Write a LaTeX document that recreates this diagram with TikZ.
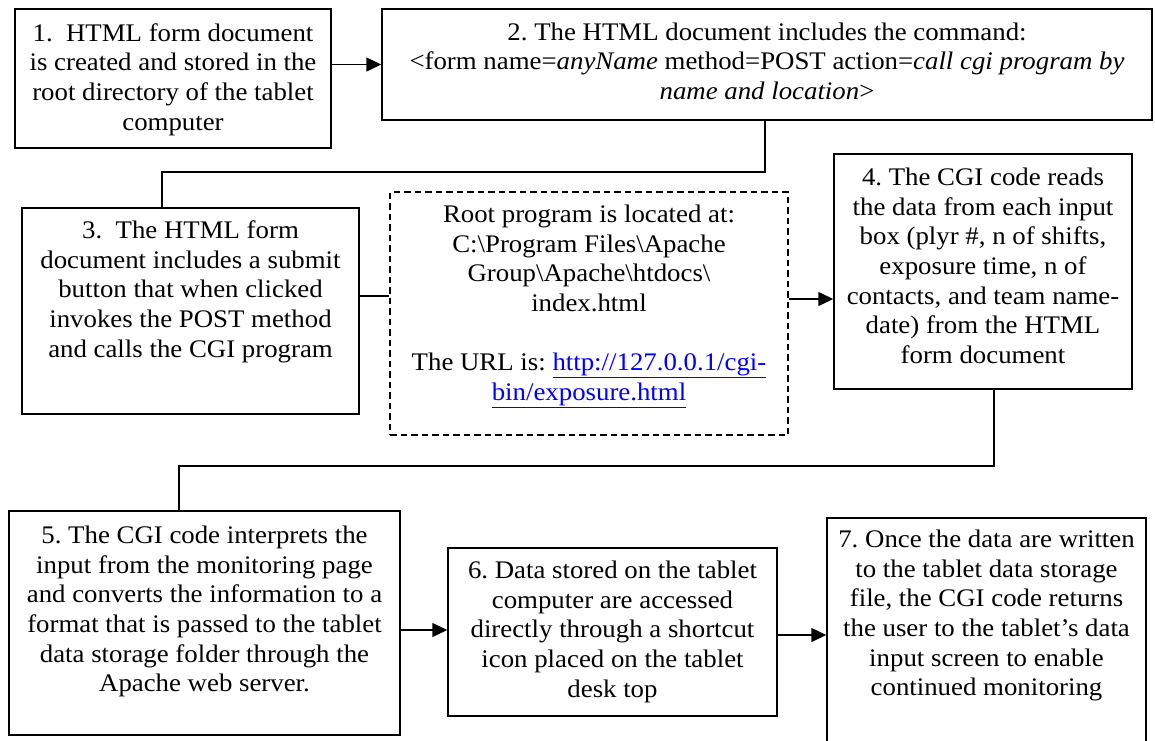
\documentclass[tikz,border=0pt]{standalone}
\usepackage{fontspec}
\setmainfont{Liberation Serif}[FakeStretch=1.06]
\usetikzlibrary{arrows.meta}
\definecolor{linkblue}{RGB}{0,0,255}
\begin{document}
\begin{tikzpicture}[x=1pt,y=-1pt,
  box/.style={draw, line width=1.5pt, inner sep=0pt},
  dbox/.style={draw, line width=1.5pt, inner sep=0pt, dash pattern=on 6.5pt off 4pt},
  txt/.style={align=center, inner sep=0pt, anchor=north, font=\fontsize{25.3}{29.7}\selectfont\frenchspacing},
  conn/.style={line width=1.5pt},
  arr/.style={line width=1.5pt, -{Triangle[length=15pt,width=14pt]}}]
\useasboundingbox (0,0) rectangle (1155,740);
\clip (0,0) rectangle (1155,740);
% boxes
\node[box, minimum width=316pt, minimum height=139pt] (b1) at (173,78.5) {};
\node[box, minimum width=770pt, minimum height=111pt] (b2) at (767,64.5) {};
\node[box, minimum width=337pt, minimum height=206pt] (b3) at (190.5,311) {};
\node[dbox, minimum width=398pt, minimum height=243pt] (d) at (589,313.5) {};
\node[box, minimum width=298pt, minimum height=235pt] (b4) at (983,271.5) {};
\node[box, minimum width=391pt, minimum height=224pt] (b5) at (204.5,623) {};
\node[box, minimum width=329pt, minimum height=168pt] (b6) at (612.5,632) {};
\node[box, minimum width=319pt, minimum height=242pt] (b7) at (986.5,639) {};
% texts
\node[txt] (t1) at (173,20.3) {\strut 1.~~HTML form document\\ is created and stored in the\\ root directory of the tablet\\ computer};
\node[txt] (t2) at (767,19.3) {\strut 2. The HTML document includes the command:\\ <form name=\textit{anyName} method=POST action=\textit{call cgi program by}\\ \textit{name and location}>};
\node[txt] (t3) at (190.5,217.3) {\strut 3.~~The HTML form\\ document includes a submit\\ button that when clicked\\ invokes the POST method\\ and calls the CGI program};
\node[txt] (td) at (589,201.3) {\strut Root program is located at:\\ C:\textbackslash Program Files\textbackslash Apache\\ Group\textbackslash Apache\textbackslash htdocs\textbackslash\\ index.html\\[29.7pt] The URL is: {\color{linkblue}\underline{http://127.0.0.1/cgi-}}\\ {\color{linkblue}\underline{bin/exposure.html}}};
\node[txt] (t4) at (983,164.3) {\strut 4. The CGI code reads\\ the data from each input\\ box (plyr \#, n of shifts,\\ exposure time, n of\\ contacts, and team name-\\ date) from the HTML\\ form document};
\node[txt] (t5) at (204.5,522.3) {\strut 5. The CGI code interprets the\\ input from the monitoring page\\ and converts the information to a\\ format that is passed to the tablet\\ data storage folder through the\\ Apache web server.};
\node[txt] (t6) at (612.5,557.3) {\strut 6. Data stored on the tablet\\ computer are accessed\\ directly through a shortcut\\ icon placed on the tablet\\ desk top};
\node[txt] (t7) at (986.5,526.3) {\strut 7. Once the data are written\\ to the tablet data storage\\ file, the CGI code returns\\ the user to the tablet’s data\\ input screen to enable\\ continued monitoring};
% connector helper coordinates
\coordinate (k1) at (765,172);
\coordinate (k2) at (162,172);
\coordinate (k3) at (0,296);
\coordinate (k4) at (0,299);
\coordinate (k5) at (994,466);
\coordinate (k6) at (179,466);
\coordinate (k7) at (0,630);
\coordinate (k8) at (0,635);
% connectors
\draw[arr] (b1.east |- b2.west) -- (b2.west);
\draw[conn] (b2.south -| k1) -- (k1) -- (k2) -- (b3.north -| k2);
\draw[conn] (b3.east |- k3) -- (d.west |- k3);
\draw[arr] (d.east |- k4) -- (b4.west |- k4);
\draw[conn] (b4.south -| k5) -- (k5) -- (k6) -- (b5.north -| k6);
\draw[arr] (b5.east |- k7) -- (b6.west |- k7);
\draw[arr] (b6.east |- k8) -- (b7.west |- k8);
\end{tikzpicture}
\end{document}
